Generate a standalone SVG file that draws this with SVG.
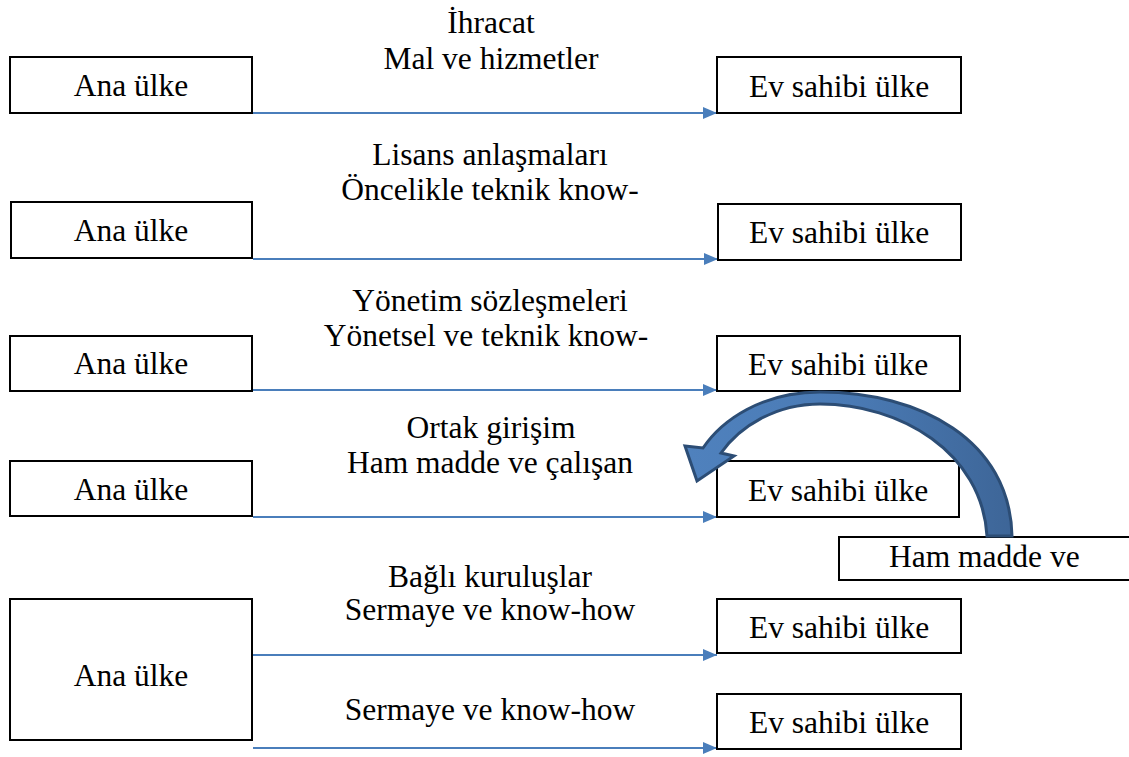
<svg xmlns="http://www.w3.org/2000/svg" width="1129" height="757" viewBox="0 0 1129 757">
  <style>
    .box { fill: #ffffff; stroke: #000000; stroke-width: 2; }
    .t { font-family: 'Liberation Serif', 'Times New Roman', serif; font-size: 31.5px; fill: #000000; }
    .c { text-anchor: middle; }
    .flow { stroke: #4a7ebb; stroke-width: 2; fill: none; marker-end: url(#head); }
  </style>
  <defs>
    <marker id="head" viewBox="0 0 14 12" refX="14" refY="6" markerWidth="14" markerHeight="12" markerUnits="userSpaceOnUse" orient="auto">
      <path d="M0,0 L14,6 L0,12 Z" fill="#4a7ebb"/>
    </marker>
    <linearGradient id="bend" x1="690" y1="0" x2="1015" y2="0" gradientUnits="userSpaceOnUse">
      <stop offset="0" stop-color="#4f81bd"/>
      <stop offset="0.5" stop-color="#4a7ab4"/>
      <stop offset="1" stop-color="#3d6597"/>
    </linearGradient>
  </defs>

  <!-- Connectors: home country to host country -->
  <g id="connectors">
    <line class="flow" x1="253" y1="113" x2="717" y2="113"/>
    <line class="flow" x1="253" y1="259" x2="718" y2="259"/>
    <line class="flow" x1="253" y1="390" x2="717" y2="390"/>
    <line class="flow" x1="253" y1="517" x2="717" y2="517"/>
    <line class="flow" x1="253" y1="655" x2="717" y2="655"/>
    <line class="flow" x1="253" y1="748" x2="717" y2="748"/>
  </g>

  <!-- Row 1: export -->
  <g id="home-1">
    <rect class="box" x="10" y="57" width="242" height="56"/>
    <text class="t c" x="131" y="96">Ana ülke</text>
  </g>
  <g id="host-1">
    <rect class="box" x="717" y="57" width="244" height="56"/>
    <text class="t c" x="839" y="97">Ev sahibi ülke</text>
  </g>
  <g id="label-1">
    <text class="t c" x="491" y="33">İhracat</text>
    <text class="t c" x="491" y="69">Mal ve hizmetler</text>
  </g>

  <!-- Row 2: licensing -->
  <g id="home-2">
    <rect class="box" x="11" y="202" width="241" height="56"/>
    <text class="t c" x="131" y="241">Ana ülke</text>
  </g>
  <g id="host-2">
    <rect class="box" x="718" y="204" width="243" height="56"/>
    <text class="t c" x="839" y="243">Ev sahibi ülke</text>
  </g>
  <g id="label-2">
    <text class="t c" x="490" y="165">Lisans anlaşmaları</text>
    <text class="t c" x="490" y="200">Öncelikle teknik know-</text>
  </g>

  <!-- Row 3: management contracts -->
  <g id="home-3">
    <rect class="box" x="10" y="336" width="242" height="55"/>
    <text class="t c" x="131" y="374">Ana ülke</text>
  </g>
  <g id="host-3">
    <rect class="box" x="717" y="336" width="243" height="55"/>
    <text class="t c" x="838" y="375">Ev sahibi ülke</text>
  </g>
  <g id="label-3">
    <text class="t c" x="490" y="311">Yönetim sözleşmeleri</text>
    <text class="t c" x="486" y="346">Yönetsel ve teknik know-</text>
  </g>

  <!-- Row 4: joint venture -->
  <g id="home-4">
    <rect class="box" x="10" y="461" width="242" height="55"/>
    <text class="t c" x="131" y="500">Ana ülke</text>
  </g>
  <g id="host-4">
    <rect class="box" x="717" y="461" width="242" height="56"/>
    <text class="t c" x="838" y="501">Ev sahibi ülke</text>
  </g>
  <g id="label-4">
    <text class="t c" x="491" y="438">Ortak girişim</text>
    <text class="t c" x="490" y="473">Ham madde ve çalışan</text>
  </g>

  <!-- Return flow of raw material -->
  <g id="return-box">
    <rect class="box" x="839" y="537" width="292" height="43"/>
    <text class="t" x="889" y="567">Ham madde ve</text>
  </g>

  <!-- Row 5: subsidiaries -->
  <g id="home-5">
    <rect class="box" x="10" y="599" width="242" height="141"/>
    <text class="t c" x="131" y="686">Ana ülke</text>
  </g>
  <g id="host-5a">
    <rect class="box" x="717" y="599" width="244" height="54"/>
    <text class="t c" x="839" y="638">Ev sahibi ülke</text>
  </g>
  <g id="host-5b">
    <rect class="box" x="717" y="694" width="244" height="55"/>
    <text class="t c" x="839" y="733">Ev sahibi ülke</text>
  </g>
  <g id="label-5">
    <text class="t c" x="490" y="587">Bağlı kuruluşlar</text>
    <text class="t c" x="490" y="620">Sermaye ve know-how</text>
    <text class="t c" x="490" y="720">Sermaye ve know-how</text>
  </g>

  <!-- Curved block arrow from the raw-material box back over the host country -->
  <g id="return-arrow">
    <path d="M1012,536 C1010,440 920,392 820,392 C762,392 722,420 703,448 L685,446 L697,481 L734,456 L721,453 C740,426 776,404 820,404 C900,404 982,452 987,536 Z"
          fill="url(#bend)" stroke="#2c4d75" stroke-width="3" stroke-linejoin="miter"/>
  </g>
</svg>
